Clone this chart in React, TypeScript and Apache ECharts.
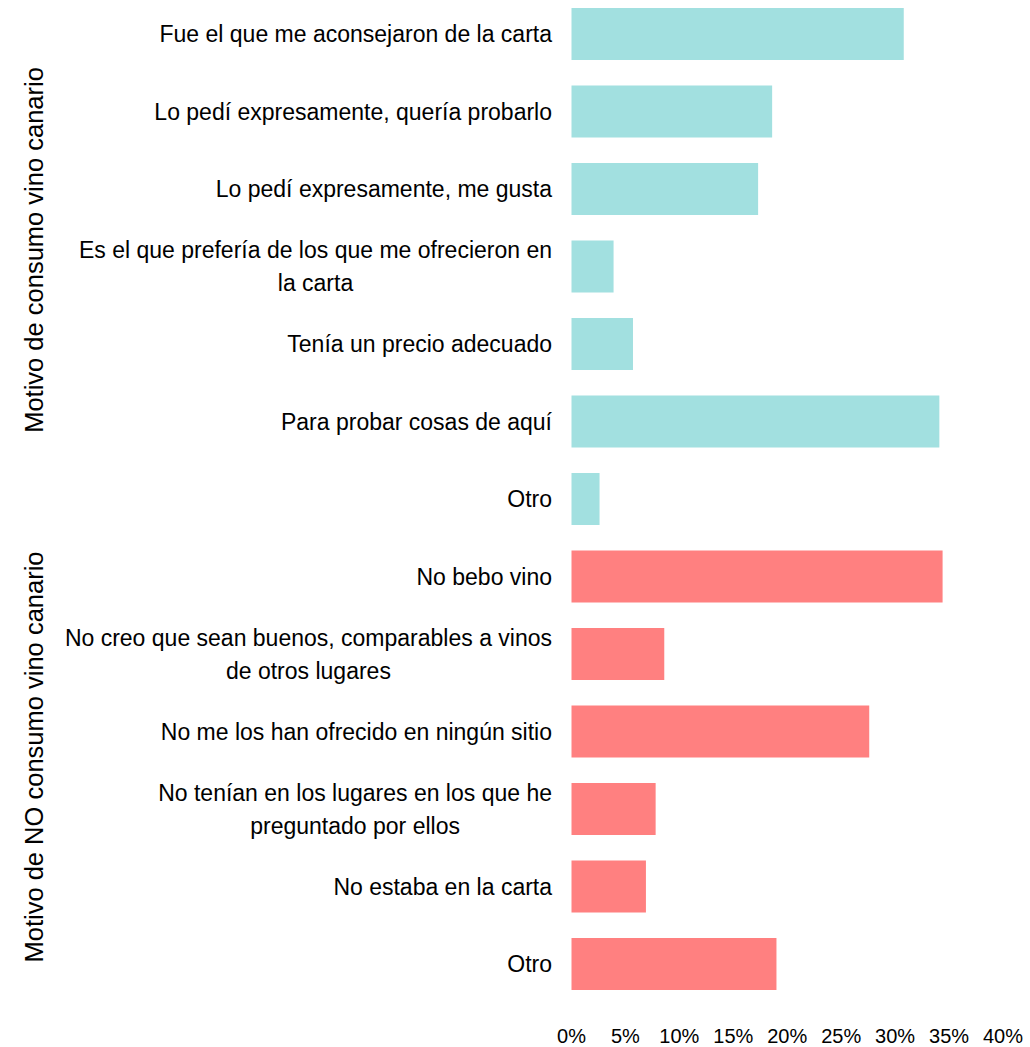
import React, { useEffect, useRef } from "react";
import * as echarts from "echarts";

const categories: string[] = [
  "Fue el que me aconsejaron de la carta",
  "Lo pedí expresamente, quería probarlo",
  "Lo pedí expresamente, me gusta",
  "Es el que prefería de los que me ofrecieron en\nla carta",
  "Tenía un precio adecuado",
  "Para probar cosas de aquí",
  "Otro",
  "No bebo vino",
  "No creo que sean buenos, comparables a vinos\nde otros lugares",
  "No me los han ofrecido en ningún sitio",
  "No tenían en los lugares en los que he\npreguntado por ellos",
  "No estaba en la carta",
  "Otro",
];

const values: number[] = [30.8, 18.6, 17.3, 3.9, 5.7, 34.1, 2.6, 34.4, 8.6, 27.6, 7.8, 6.9, 19.0];

// 0 = consumo, 1 = NO consumo
const groups: number[] = [0, 0, 0, 0, 0, 0, 0, 1, 1, 1, 1, 1, 1];
const groupNames: string[] = ["Motivo de consumo vino canario", "Motivo de NO consumo vino canario"];

const xTicks: number[] = [0, 5, 10, 15, 20, 25, 30, 35, 40];

const COLORS = ["#A2E0E0", "#FF8080"];
const FONT = "'Liberation Sans', Arial, sans-serif";
const OFFSET = 5;

export default function App() {
  const ref = useRef<HTMLDivElement>(null);
  useEffect(() => {
    if (!ref.current) return;
    const chart = echarts.init(ref.current, undefined, { renderer: "svg" });
    chart.setOption({
      animation: false,
      backgroundColor: "#ffffff",
      grid: { left: 571.5, right: 27, top: 0.25, bottom: 44.25, containLabel: false },
      xAxis: {
        type: "value",
        min: xTicks[0],
        max: xTicks[xTicks.length - 1],
        interval: 5,
        axisLine: { show: false },
        axisTick: { show: false },
        splitLine: { show: false },
        axisLabel: {
          formatter: (v: number) => `${v}%`,
          fontSize: 20,
          color: "#000",
          fontFamily: FONT,
          margin: 23,
        },
      },
      yAxis: {
        type: "category",
        inverse: true,
        data: categories,
        axisLine: { show: false },
        axisTick: { show: false },
        splitLine: { show: false },
        axisLabel: {
          margin: 19.5,
          color: "#000",
          fontSize: 23,
          fontFamily: FONT,
          lineHeight: 33,
          formatter: (v: string) =>
            v
              .split("\n")
              .map((l) => `{c|${l}}`)
              .join("\n"),
          rich: {
            c: { align: "center", fontSize: 23, lineHeight: 33, fontFamily: FONT, color: "#000" },
          },
        },
      },
      series: [
        {
          type: "bar",
          barWidth: 52,
          data: values.map((v, i) => ({ value: v, itemStyle: { color: COLORS[groups[i]] } })),
        },
      ],
      graphic: [
        {
          type: "text",
          x: 34,
          y: 250 + OFFSET,
          rotation: Math.PI / 2,
          style: {
            text: groupNames[0],
            fontSize: 25.5,
            fontFamily: FONT,
            fill: "#000",
            align: "center",
            verticalAlign: "middle",
          },
        },
        {
          type: "text",
          x: 34,
          y: 757 + OFFSET,
          rotation: Math.PI / 2,
          style: {
            text: groupNames[1],
            fontSize: 25.5,
            fontFamily: FONT,
            fill: "#000",
            align: "center",
            verticalAlign: "middle",
          },
        },
      ],
    });
    return () => chart.dispose();
  }, []);
  return (
    <div
      ref={ref}
      style={{ position: "absolute", left: 0, top: -OFFSET, width: 1030, height: 1047 + OFFSET }}
    />
  );
}
